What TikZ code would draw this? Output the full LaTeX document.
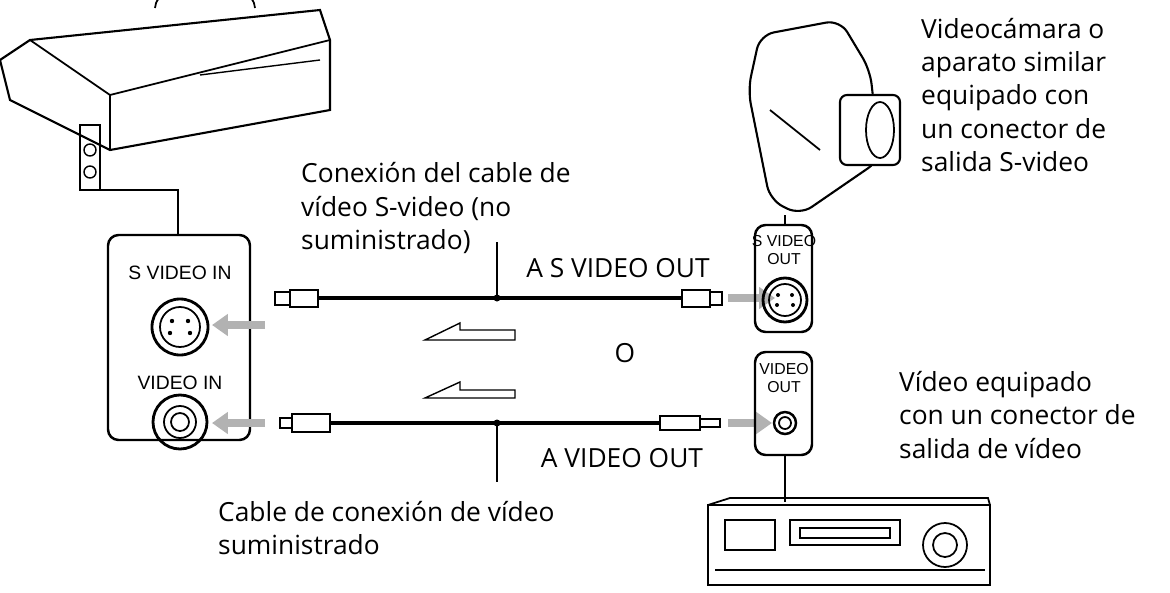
\documentclass[tikz,border=0pt]{standalone}
\usepackage{fontspec}
\setmainfont{Open Sans}
\newfontfamily\pan{Liberation Sans}
\usetikzlibrary{arrows.meta}
\begin{document}
\begin{tikzpicture}[x=0.02cm,y=-0.02cm,
 captxt/.style={font=\fontsize{15}{19}\selectfont,anchor=west,align=left},
 lab/.style={font=\pan\fontsize{11}{12}\selectfont},
 slab/.style={font=\pan\fontsize{9}{10}\selectfont,align=center,inner sep=0pt},
 panel/.style={draw,line width=1.4pt,rounded corners=6},
 dev/.style={draw,line width=1.2pt,fill=white},
 gar/.style={line width=5pt,draw=gray!60,-{Triangle[length=9pt,width=12pt]}},
 cable/.style={line width=2.2pt},
 hollow/.style={draw,line width=0.8pt,fill=white}]
\useasboundingbox (0,0) rectangle (1170,592);
% printer
\draw[dev] (0,60) -- (30,40) -- (320,10) -- (330,40) -- (330,110) -- (110,150) -- (10,100) -- cycle;
\draw[line width=1pt] (30,40)--(110,95)--(330,40);
\draw[line width=1pt] (110,95)--(110,150);
\draw[line width=1pt] (155,8) arc (180:360:50 and 25);
\draw[line width=0.8pt] (200,75) -- (320,60);
\draw[line width=0.8pt] (80,125) rectangle (100,190);
\coordinate (p1) at (90,150); \coordinate (p2) at (90,172);
\draw[line width=0.8pt] (p1) circle (6) (p2) circle (6);
\draw[line width=1.2pt] (100,190) -- (178,190) -- (178,235);
% left panel
\draw[panel] (108,235) rectangle (250,440);
\node[lab] (sin) at (180,273) {S VIDEO IN};
\coordinate (sj) at (180,327);
\draw[line width=1.6pt] (sj) circle (28);
\draw[line width=1pt] (sj) circle (20);
\foreach \a/\b in {-8/-6,8/-6,-10/6,10/6} \fill (180+\a,327+\b) circle (2.2);
\node[lab] (vin) at (180,383) {VIDEO IN};
\coordinate (vj) at (180,422);
\draw[line width=1.6pt] (vj) circle (27);
\draw[line width=1pt] (vj) circle (16);
\draw[line width=1pt] (vj) circle (9);
% gray arrows
\coordinate (a1s) at (265,325); \coordinate (a1e) at (212,325);
\draw[gar] (a1s) -- (a1e);
\coordinate (a2s) at (265,423); \coordinate (a2e) at (212,423);
\draw[gar] (a2s) -- (a2e);
\coordinate (a3s) at (728,298); \coordinate (a3e) at (775,298);
\draw[gar] (a3s) -- (a3e);
\coordinate (a4s) at (728,423); \coordinate (a4e) at (772,423);
\draw[gar] (a4s) -- (a4e);
% cable 1
\draw[line width=1pt,fill=white] (275,292) rectangle (290,305);
\draw[line width=1pt,fill=white] (290,290) rectangle (318,307);
\draw[line width=1pt,fill=white] (682,290) rectangle (710,307);
\draw[line width=1pt,fill=white] (710,292) rectangle (722,305);
\coordinate (c1a) at (318,298); \coordinate (c1b) at (682,298);
\draw[cable] (c1a) -- (c1b);
% cable 2
\draw[line width=1pt,fill=white] (280,418) rectangle (292,428);
\draw[line width=1pt,fill=white] (292,414) rectangle (330,432);
\draw[line width=1pt,fill=white] (660,416) rectangle (700,430);
\draw[line width=1pt,fill=white] (700,419) rectangle (720,427);
\coordinate (c2a) at (330,423); \coordinate (c2b) at (660,423);
\draw[cable] (c2a) -- (c2b);
% leaders
\fill (497,298) circle (3.5); \fill (497,423) circle (3.5);
\draw[line width=1pt] (497,242) -- (497,298);
\draw[line width=1pt] (497,423) -- (497,482);
% hollow arrows
\draw[hollow] (515,330) -- (460,330) -- (460,323) -- (425,340) -- (515,340) -- cycle;
\draw[hollow] (515,398) -- (425,398) -- (460,382) -- (460,390) -- (515,390) -- cycle;
% right panels
\draw[panel] (755,225) rectangle (812,332);
\node[slab] at (784,250) {S VIDEO\\OUT};
\coordinate (so) at (785,300);
\draw[line width=1.6pt] (so) circle (22);
\draw[line width=1pt] (so) circle (16);
\foreach \a/\b in {-7/-5,7/-5,-8/5,8/5} \fill (785+\a,300+\b) circle (2);
\draw[panel] (755,352) rectangle (812,455);
\node[slab] at (784,378) {VIDEO\\OUT};
\coordinate (vo) at (785,423);
\draw[line width=1.4pt] (vo) circle (11);
\draw[line width=1pt] (vo) circle (6);
\draw[line width=1.2pt] (785,455) -- (785,502);
% camcorder
\draw[dev,rounded corners=8] (760,35) -- (840,20) -- (870,70) -- (880,160) -- (800,215) -- (770,200) -- (748,90) -- cycle;
\draw[dev,rounded corners=4] (840,95) rectangle (900,165);
\draw[line width=1pt] (880,130) ellipse (14 and 28);
\draw[line width=1pt] (770,110) -- (820,150);
\draw[line width=1.2pt] (785,215) -- (785,225);
% VCR
\draw[dev] (708,505) rectangle (990,585);
\draw[line width=1pt] (708,505) -- (730,498) -- (988,498) -- (990,505);
\draw[line width=1pt] (725,520) rectangle (775,550);
\draw[line width=1pt] (790,520) rectangle (900,545);
\draw[line width=1pt] (800,528) rectangle (890,538);
\draw[line width=1pt] (945,545) circle (22);
\draw[line width=1pt] (945,545) circle (12);
\draw[line width=0.8pt] (715,570) -- (985,570);
% texts
\node[captxt] at (915,95) {Videocámara o\\aparato similar\\equipado con\\un conector de\\salida S-video};
\node[captxt] at (295,208) {Conexión del cable de\\vídeo S-video (no\\suministrado)};
\node[font=\fontsize{15}{19}\selectfont] at (618,268) {A S VIDEO OUT};
\node[font=\fontsize{15}{19}\selectfont] at (625,353) {O};
\node[font=\fontsize{15}{19}\selectfont] at (622,458) {A VIDEO OUT};
\node[captxt] at (212,528) {Cable de conexión de vídeo\\suministrado};
\node[captxt] at (893,415) {Vídeo equipado\\con un conector de\\salida de vídeo};
\end{tikzpicture}
\end{document}
